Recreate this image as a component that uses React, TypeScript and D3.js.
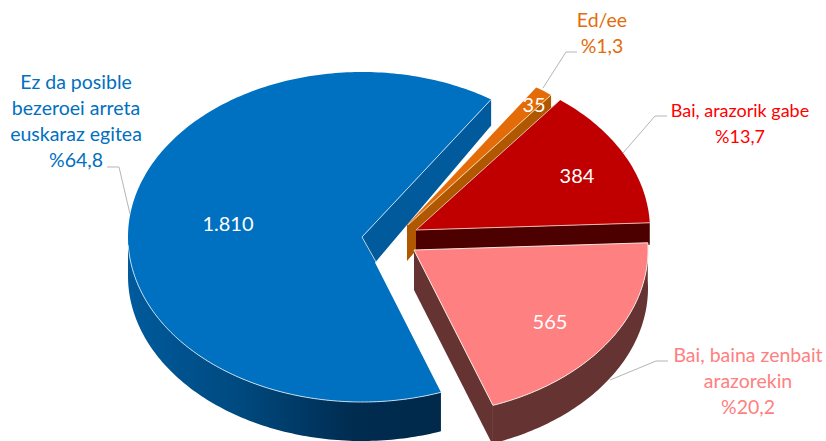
import React from "react";
import * as d3 from "d3";

// Data
const categories = ["Ed/ee", "Bai, arazorik gabe", "Bai, baina zenbait arazorekin", "Ez da posible bezeroei arreta euskaraz egitea"];
const values = [35, 384, 565, 1810];
const valueLabels = ["35", "384", "565", "1.810"];
const percents = ["%1,3", "%13,7", "%20,2", "%64,8"];
const topColors = ["#e36c09", "#c00000", "#ff8080", "#0070c0"];
const wallColors = ["#b05800", "#4d0000", "#663333", "#005a9c"];

// Geometry of the exploded 3D pie
const START_DEG = 33.5;
const CENTERS: [number, number][] = [[407, 225], [416, 230], [414, 250], [362, 237]];
const RX = 234;
const RY = 165;
const DEPTH = 39;

const W = 826;
const H = 441;

const pie = d3.pie<number>().sort(null).startAngle((START_DEG * Math.PI) / 180).endAngle((START_DEG * Math.PI) / 180 + 2 * Math.PI);
const arcs = pie(values);

const pt = (i: number, a: number, dy = 0): [number, number] => [
  CENTERS[i][0] + RX * Math.sin(a),
  CENTERS[i][1] - RY * Math.cos(a) + dy,
];
const line = d3.line();
const arcPts = (i: number, a0: number, a1: number, dy = 0): [number, number][] => {
  const n = Math.max(2, Math.ceil(Math.abs(a1 - a0) * 60));
  return d3.range(n + 1).map((k) => pt(i, a0 + ((a1 - a0) * k) / n, dy));
};
const topPath = (i: number) => {
  const c = CENTERS[i];
  return line([c, ...arcPts(i, arcs[i].startAngle, arcs[i].endAngle)]) + "Z";
};
const shift = (p: [number, number], dx: number, dy: number): [number, number] => [p[0] + dx, p[1] + dy];

const [ORANGE, RED, PINK, BLUE] = [0, 1, 2, 3];
const EDGE = "#f3e6e0";

const leaderSets: [number, number][][] = [
  [[577, 52], [566, 52], [543, 88]],
  [[667, 116], [655, 116], [623, 153]],
  [[668, 361], [656, 361], [610, 380]],
  [[107, 167], [119, 167], [130, 214]],
];
const labelLines: string[][] = [
  ["Ed/ee", percents[0]],
  ["Bai, arazorik gabe", percents[1]],
  ["Bai, baina zenbait", "arazorekin", percents[2]],
  ["Ez da posible", "bezeroei arreta", "euskaraz egitea", percents[3]],
];
const labelPos: [number, number][] = [[602, 27], [740, 117], [748, 362], [76, 89]];
const labelSizes = [19.5, 18, 19.5, 19.5];
const labelColors = ["#e46c0a", "#ff0000", "#ff8080", "#0070c0"];
const valuePos: [number, number][] = [[534, 112], [577, 183], [550, 329], [228, 231]];

export default function App() {
  const side = (i: number, a0: number, a1: number, depth: number) =>
    line([...arcPts(i, a0, a1), ...arcPts(i, a1, a0, depth)]) + "Z";

  const blueA0 = arcs[BLUE].startAngle;
  const blueA1 = arcs[BLUE].endAngle;
  const blueOuter = pt(BLUE, blueA1);
  const orangeOuter = pt(ORANGE, arcs[ORANGE].endAngle);
  const redRight = pt(RED, arcs[RED].endAngle);
  const pinkA0 = arcs[PINK].startAngle;
  const pinkA1 = arcs[PINK].endAngle;
  const pinkFront = pt(PINK, pinkA1);

  return (
    <svg width={W} height={H} style={{ position: "absolute", left: 0, top: 0, background: "#fff" }}
      fontFamily="Lato, 'Open Sans', sans-serif">
      <defs>
        <linearGradient id="blueSide" gradientUnits="userSpaceOnUse" x1={128} x2={440} y1={0} y2={0}>
          <stop offset="0" stopColor="#005a9c" />
          <stop offset="0.35" stopColor="#004a80" />
          <stop offset="0.72" stopColor="#002c50" />
          <stop offset="1" stopColor="#00294a" />
        </linearGradient>
      </defs>

      {/* blue back wall */}
      <path fill={wallColors[BLUE]} d={line([CENTERS[BLUE], blueOuter, shift(blueOuter, 0, 26), shift(CENTERS[BLUE], 0, 41)]) + "Z"} />

      {/* orange */}
      <path fill={wallColors[ORANGE]} d={line([CENTERS[ORANGE], orangeOuter, shift(orangeOuter, 0, 15), shift(CENTERS[ORANGE], 6, 29), shift(CENTERS[ORANGE], 0, 36)]) + "Z"} />
      <path fill={topColors[ORANGE]} d={topPath(ORANGE)} />
      <path fill="none" stroke="#f4d2a8" strokeWidth={1} d={line([shift(CENTERS[ORANGE], 1, 0), orangeOuter])!} />

      {/* red */}
      <path fill={wallColors[RED]} d={line([CENTERS[RED], redRight, shift(redRight, 0, 22), shift(CENTERS[RED], 0, 22)]) + "Z"} />
      <path fill={topColors[RED]} d={topPath(RED)} />
      <path fill="none" stroke="#e8b8b0" strokeWidth={1} d={line([pt(RED, arcs[RED].startAngle), CENTERS[RED], redRight])!} />

      {/* pink */}
      <path fill={wallColors[PINK]} d={side(PINK, pinkA0, pinkA1, 38)} />
      <path fill={wallColors[PINK]} d={line([CENTERS[PINK], pinkFront, shift(pinkFront, 0, 40), shift(CENTERS[PINK], 0, 40)]) + "Z"} />
      <path fill={topColors[PINK]} stroke={EDGE} strokeWidth={1} d={topPath(PINK)} />

      {/* blue front */}
      <path fill="url(#blueSide)" d={side(BLUE, blueA0, (3 * Math.PI) / 2, DEPTH)} />
      <path fill={topColors[BLUE]} d={topPath(BLUE)} />
      <path fill="none" stroke="#cfe3f2" strokeWidth={1} strokeOpacity={0.9} d={line(arcPts(BLUE, blueA0, (3 * Math.PI) / 2 - 0.05))!} />
      <path fill="none" stroke="#cfe3f2" strokeWidth={1} strokeOpacity={0.9} d={line([blueOuter, CENTERS[BLUE], shift(CENTERS[BLUE], 14, 25)])!} />

      {/* leaders */}
      {leaderSets.map((l, i) => (
        <path key={i} fill="none" stroke="#b5b5b5" strokeWidth={1} d={line(l)!} />
      ))}

      {/* category labels */}
      {labelLines.map((lines, i) => (
        <text key={i} textAnchor="middle" fontSize={labelSizes[i]} fill={labelColors[i]}>
          {lines.map((t, j) => (
            <tspan key={j} x={labelPos[i][0]} y={labelPos[i][1] + j * 26}>{t}</tspan>
          ))}
        </text>
      ))}

      {/* value labels */}
      {valueLabels.map((t, i) => (
        <text key={i} x={valuePos[i][0]} y={valuePos[i][1]} textAnchor="middle" fontSize={20} fill="#fff">{t}</text>
      ))}
      <title>{categories.join(", ")}</title>
    </svg>
  );
}
